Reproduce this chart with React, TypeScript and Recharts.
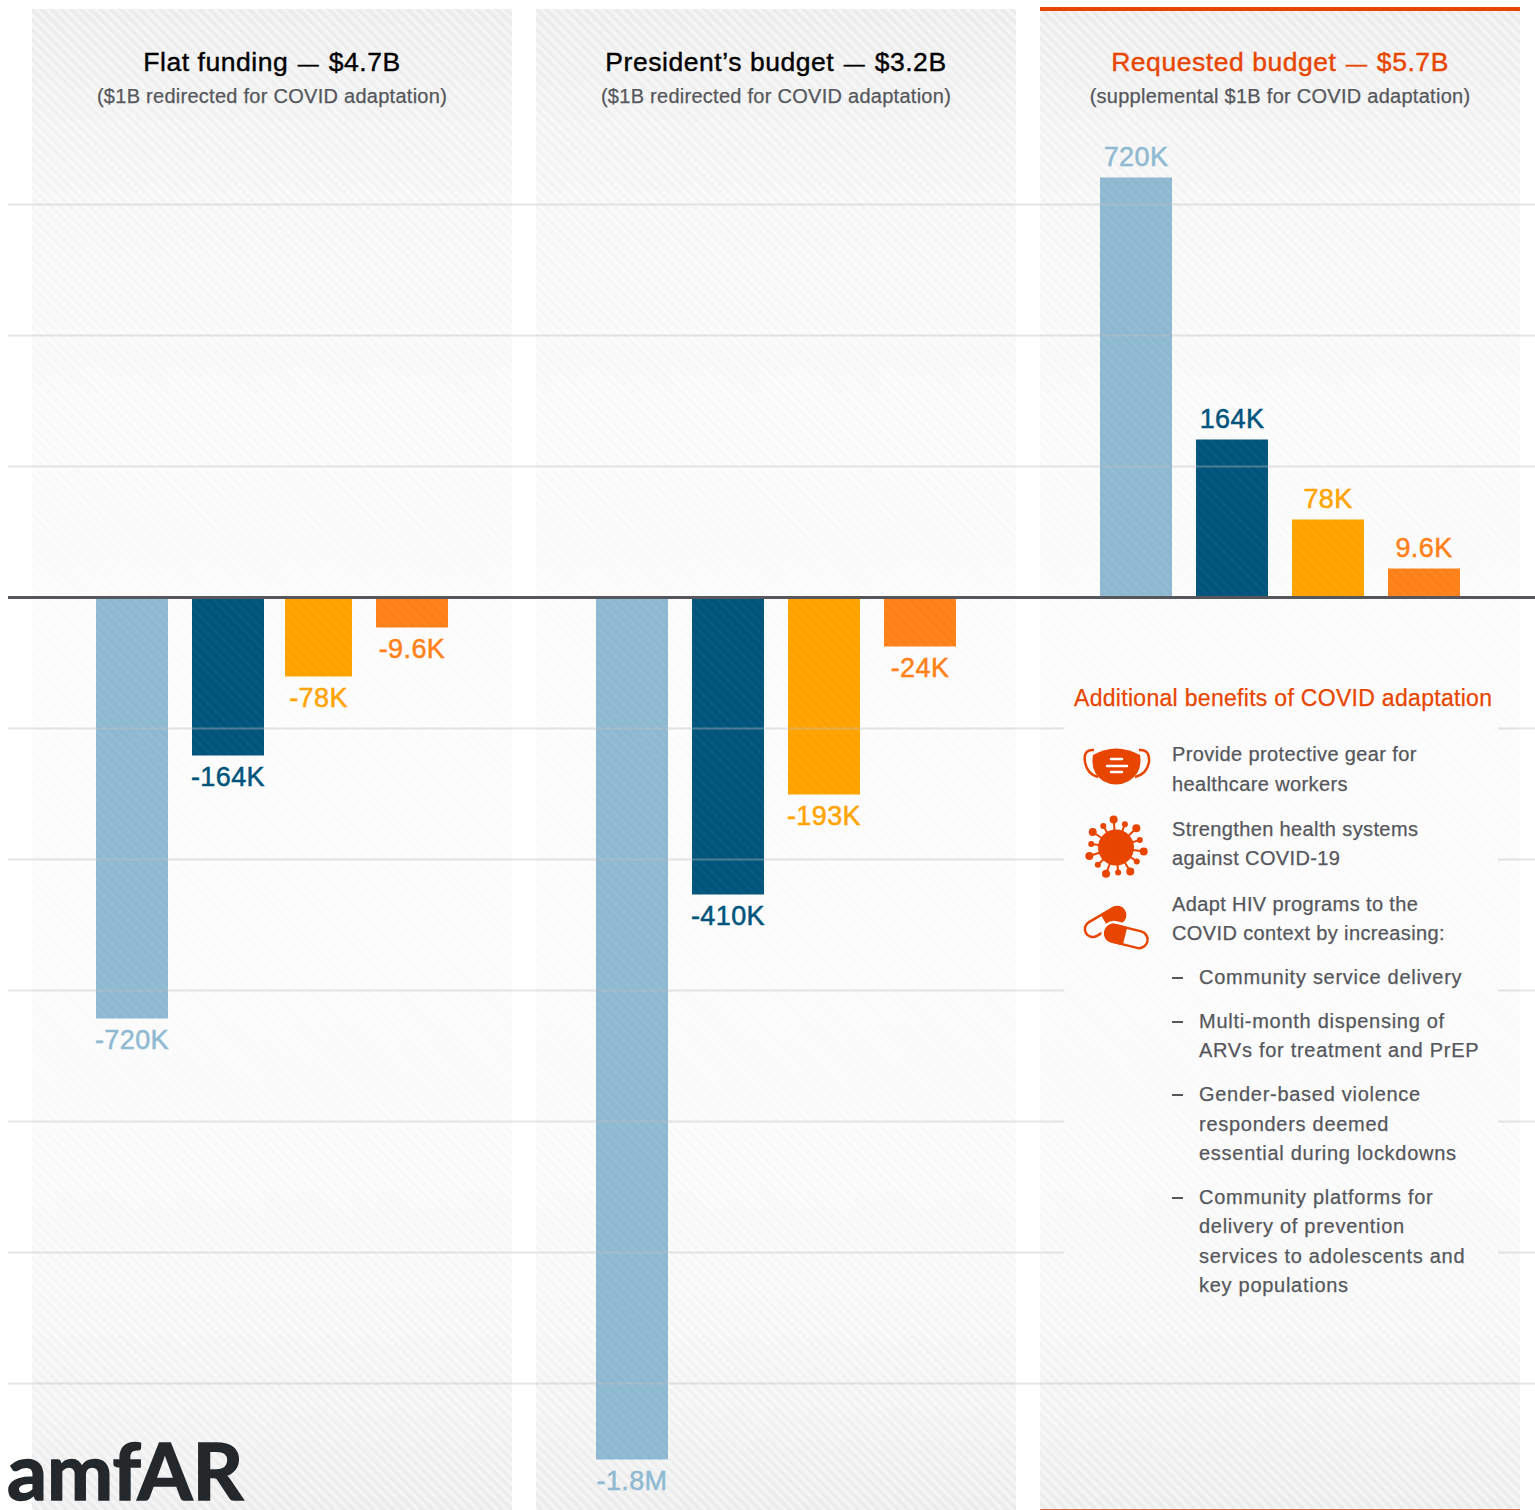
import { BarChart, Bar, CartesianGrid, LabelList, ReferenceLine, XAxis, YAxis } from "recharts";

const CHART_HEIGHT = 1510;
const BASELINE = 597.5;

const metrics = ["Total", "Children", "Women", "Key"];

// bar lengths as measured on the picture: the source does not draw them in proportion to the labels
const flatValues = [-421, -158, -79, -30];
const flatLabels = ["-720K", "-164K", "-78K", "-9.6K"];
const presidentValues = [-862, -297, -197, -49];
const presidentLabels = ["-1.8M", "-410K", "-193K", "-24K"];
const requestedValues = [420, 158, 78, 29];
const requestedLabels = ["720K", "164K", "78K", "9.6K"];

const gridTicks = [393, 262, 131, 0, -131, -262, -393, -524, -655, -786];

const barColors = ["#8fbad2", "#00547c", "#ffa400", "#ff8119"];
const ACCENT = "#e84500";
const TEXT_GREY = "#55575c";
const FONT = "'Liberation Sans', Arial, sans-serif";
const PANEL_GRADIENT =
  "linear-gradient(180deg, #ebebeb 0%, #f1f1f1 7%, #f6f6f6 14%, #f9f9f9 28%, #fbfbfb 45%, #fafafa 72%, #f7f7f7 85%, #f1f1f1 94%, #ebebeb 100%)";

const toRows = (values: number[], labels: string[]) =>
  metrics.map((name, i) => ({ name, value: values[i], label: labels[i] }));

const Y_DOMAIN: [number, number] = [BASELINE - CHART_HEIGHT, BASELINE];

interface PanelChartProps {
  values: number[];
  labels: string[];
  left: number;
  /** per-bar tweak, the first panel's bars are not on the regular pitch */
  nudges?: { dx: number; width: number }[];
}

function PanelChart({ values, labels, left, nudges }: PanelChartProps) {
  const rows = toRows(values, labels);
  return (
    <div style={{ position: "absolute", left, top: 0 }}>
      <BarChart width={480} height={CHART_HEIGHT} data={rows} margin={{ top: 0, right: 0, bottom: 0, left: 0 }} barSize={72}>
        <XAxis dataKey="name" hide padding={{ left: 48, right: 48 }} />
        <YAxis hide domain={Y_DOMAIN} />
        <Bar
          dataKey="value"
          isAnimationActive={false}
          shape={(p: any) => {
            const n = nudges?.[p.index];
            const x = p.x + (n?.dx ?? 0);
            const w = n?.width ?? p.width;
            const top = Math.min(p.y, p.y + p.height);
            const h = Math.abs(p.height);
            return (
              <g>
                <rect x={x} y={top} width={w} height={h} fill={barColors[p.index]} />
                <rect x={x} y={top} width={w} height={h} fill="url(#barStripes)" />
              </g>
            );
          }}
        >
          <LabelList
            dataKey="label"
            content={(p: any) => {
              const n = nudges?.[p.index];
              const cx = p.x + (n?.dx ?? 0) + (n?.width ?? p.width) / 2;
              const negative = values[p.index] < 0;
              const top = Math.min(p.y, p.y + p.height);
              const bottom = Math.max(p.y, p.y + p.height);
              return (
                <text
                  x={cx}
                  y={negative ? bottom + 30 : top - 12}
                  textAnchor="middle"
                  fontFamily={FONT}
                  fontSize={27}
                  letterSpacing={0.4}
                  fill={barColors[p.index]}
                  stroke={barColors[p.index]}
                  strokeWidth={0.5}
                >
                  {p.value}
                </text>
              );
            }}
          />
        </Bar>
      </BarChart>
    </div>
  );
}

const panels = [
  { left: 32, before: "Flat funding", amount: "$4.7B", sub: "($1B redirected for COVID adaptation)", color: "#000" },
  { left: 536, before: "President’s budget", amount: "$3.2B", sub: "($1B redirected for COVID adaptation)", color: "#000" },
  { left: 1040, before: "Requested budget", amount: "$5.7B", sub: "(supplemental $1B for COVID adaptation)", color: ACCENT },
];

const benefitLines: { text: string; y: number; x: number; dash?: boolean }[] = [
  { text: "Provide protective gear for", y: 754, x: 1172 },
  { text: "healthcare workers", y: 784, x: 1172 },
  { text: "Strengthen health systems", y: 829, x: 1172 },
  { text: "against COVID-19", y: 858, x: 1172 },
  { text: "Adapt HIV programs to the", y: 904, x: 1172 },
  { text: "COVID context by increasing:", y: 933, x: 1172 },
  { text: "Community service delivery", y: 977, x: 1199, dash: true },
  { text: "Multi-month dispensing of", y: 1021, x: 1199, dash: true },
  { text: "ARVs for treatment and PrEP", y: 1050, x: 1199 },
  { text: "Gender-based violence", y: 1094, x: 1199, dash: true },
  { text: "responders deemed", y: 1124, x: 1199 },
  { text: "essential during lockdowns", y: 1153, x: 1199 },
  { text: "Community platforms for", y: 1197, x: 1199, dash: true },
  { text: "delivery of prevention", y: 1226, x: 1199 },
  { text: "services to adolescents and", y: 1256, x: 1199 },
  { text: "key populations", y: 1285, x: 1199 },
];

const abs = (o: React.CSSProperties): React.CSSProperties => ({ position: "absolute", ...o });

function Icons() {
  const spikes = Array.from({ length: 14 }, (_, i) => (i * 360) / 14 + 8);
  return (
    <svg width={1535} height={1510} style={abs({ left: 0, top: 0 })}>
      {/* mask */}
      <path d="M1093 755 Q1116 742 1140 755 Q1143 772 1129 781 Q1116 788 1103 781 Q1090 772 1093 755 Z" fill={ACCENT} />
      <path d="M1094 750 Q1083 749 1085 762 Q1087 774 1098 777" fill="none" stroke={ACCENT} strokeWidth={2.5} />
      <path d="M1139 750 Q1150 749 1149 762 Q1147 774 1135 777" fill="none" stroke={ACCENT} strokeWidth={2.5} />
      <path d="M1111 759 H1122 M1107 766 H1127 M1111 772 H1122" stroke="#fff" strokeWidth={2.5} strokeLinecap="round" />
      {/* virus */}
      <circle cx={1116} cy={847.5} r={18} fill={ACCENT} />
      {spikes.map((a, i) => {
        const r = i % 2 === 0 ? 28 : 25;
        const dot = i % 2 === 0 ? 4 : 3;
        const cos = Math.cos((a * Math.PI) / 180);
        const sin = Math.sin((a * Math.PI) / 180);
        return (
          <g key={a}>
            <line x1={1116} y1={847.5} x2={1116 + r * cos} y2={847.5 + r * sin} stroke={ACCENT} strokeWidth={2} />
            <circle cx={1116 + r * cos} cy={847.5 + r * sin} r={dot} fill={ACCENT} />
          </g>
        );
      })}
      {/* pills */}
      <g transform="rotate(-30 1105 922)">
        <rect x={1083} y={914} width={44} height={16} rx={8} fill="none" stroke={ACCENT} strokeWidth={2.5} />
        <path d="M1105 913 H1119 A9 9 0 0 1 1119 931 H1105 Z" fill={ACCENT} />
      </g>
      <g transform="rotate(14 1126.5 936.5)">
        <rect x={1101} y={924} width={51} height={25} rx={12.5} fill="#fbfbfb" />
        <rect x={1105} y={928} width={43} height={17} rx={8.5} fill="#fbfbfb" stroke={ACCENT} strokeWidth={2.5} />
        <path d="M1125 927 H1113 A9.5 9.5 0 0 0 1113 946 H1125 Z" fill={ACCENT} />
      </g>
    </svg>
  );
}

export default function App() {
  const gridRows = [{ name: "grid", value: 0 }];
  return (
    <div style={abs({ left: 0, top: 0, width: 1535, height: 1510, background: "#fff", overflow: "hidden", fontFamily: FONT })}>
      {panels.map((p) => (
        <div key={p.left} style={abs({ left: p.left, top: 9, width: 480, height: 1501, background: PANEL_GRADIENT })} />
      ))}

      <svg width={1535} height={1510} style={abs({ left: 0, top: 0 })}>
        <defs>
          <pattern id="panelStripes" width={7} height={7} patternUnits="userSpaceOnUse" patternTransform="rotate(45)">
            <rect width={7} height={3.5} fill="#fff" fillOpacity={0.45} />
          </pattern>
          <pattern id="barStripes" width={7} height={7} patternUnits="userSpaceOnUse" patternTransform="rotate(45)">
            <rect width={7} height={3.5} fill="#fff" fillOpacity={0.025} />
            <rect y={3.5} width={7} height={3.5} fill="#000" fillOpacity={0.012} />
          </pattern>
        </defs>
        {panels.map((p) => (
          <rect key={p.left} x={p.left} y={9} width={480} height={1501} fill="url(#panelStripes)" />
        ))}
      </svg>

      <PanelChart
        left={32}
        values={flatValues}
        labels={flatLabels}
        nudges={[
          { dx: 4, width: 72 },
          { dx: 4, width: 72 },
          { dx: 1, width: 67 },
          { dx: -4, width: 72 },
        ]}
      />
      <PanelChart left={536} values={presidentValues} labels={presidentLabels} />
      <PanelChart left={1040} values={requestedValues} labels={requestedLabels} />

      <div style={abs({ left: 8, top: 0 })}>
        <BarChart width={1527} height={CHART_HEIGHT} data={gridRows} margin={{ top: 0, right: 0, bottom: 0, left: 0 }}>
          <XAxis dataKey="name" hide />
          <YAxis hide domain={Y_DOMAIN} ticks={gridTicks} />
          <CartesianGrid vertical={false} stroke="#bdbdbd" strokeOpacity={0.4} strokeWidth={2} syncWithTicks />
          <Bar dataKey="value" fill="none" isAnimationActive={false} />
          <ReferenceLine y={0} stroke="#55575c" strokeWidth={3} />
        </BarChart>
      </div>

      {/* right panel extras */}
      <div style={abs({ left: 1040, top: 7, width: 480, height: 4, background: ACCENT })} />
      <div style={abs({ left: 1040, top: 1509, width: 480, height: 1, background: "#d9653a" })} />
      <div
        style={abs({
          left: 1064,
          top: 610,
          width: 434,
          height: 720,
          background: PANEL_GRADIENT,
          backgroundSize: "480px 1501px",
          backgroundPosition: "-24px -601px",
          backgroundRepeat: "no-repeat",
        })}
      />
      <svg width={1535} height={1510} style={abs({ left: 0, top: 0 })}>
        <rect x={1064} y={610} width={434} height={720} fill="url(#panelStripes)" />
      </svg>

      {panels.map((p) => (
        <div key={p.left} style={abs({ left: p.left, top: 0, width: 480, textAlign: "center" })}>
          <div
            style={abs({
              left: 0,
              width: 480,
              top: 46,
              fontSize: 26.5,
              lineHeight: "32px",
              letterSpacing: 0.55,
              color: p.color,
              whiteSpace: "pre",
              WebkitTextStroke: `0.4px ${p.color}`,
            })}
          >
            {p.before}
            <span style={{ fontSize: 21, margin: "0 3px" }}> — </span>
            {p.amount}
          </div>
          <div
            style={abs({
              left: 0,
              width: 480,
              top: 84,
              fontSize: 20,
              lineHeight: "24px",
              letterSpacing: 0.27,
              color: TEXT_GREY,
              whiteSpace: "pre",
              WebkitTextStroke: `0.25px ${TEXT_GREY}`,
            })}
          >
            {p.sub}
          </div>
        </div>
      ))}

      <div
        style={abs({
          left: 1074,
          top: 684,
          fontSize: 23,
          lineHeight: "28px",
          letterSpacing: 0.3,
          color: ACCENT,
          whiteSpace: "pre",
          WebkitTextStroke: `0.25px ${ACCENT}`,
        })}
      >
        Additional benefits of COVID adaptation
      </div>
      {benefitLines.map((l) => (
        <div
          key={l.text}
          style={abs({
            left: l.x,
            top: l.y - 12,
            fontSize: 20,
            lineHeight: "24px",
            letterSpacing: l.x === 1172 ? 0.38 : 0.72,
            color: TEXT_GREY,
            whiteSpace: "pre",
            WebkitTextStroke: `0.25px ${TEXT_GREY}`,
          })}
        >
          {l.text}
        </div>
      ))}
      {benefitLines
        .filter((l) => l.dash)
        .map((l) => (
          <div key={l.text + "-dash"} style={abs({ left: 1172, top: l.y, width: 11, height: 2, background: TEXT_GREY })} />
        ))}
      <Icons />

      <div
        style={abs({
          left: 7,
          top: 1431,
          fontFamily: "Lato, sans-serif",
          fontWeight: 700,
          fontSize: 79,
          lineHeight: "78px",
          color: "#24282b",
          whiteSpace: "pre",
          WebkitTextStroke: "1.5px #24282b",
        })}
      >
        amfAR
      </div>
    </div>
  );
}
